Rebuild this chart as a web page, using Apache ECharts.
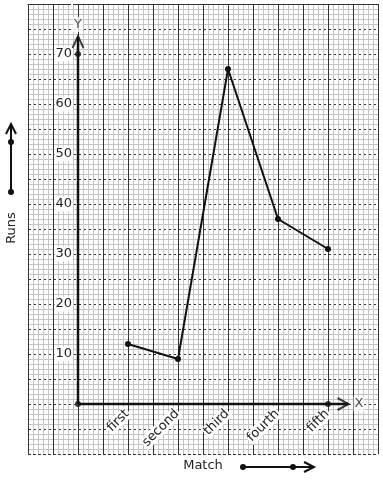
<!DOCTYPE html>
<html>
<head>
<meta charset="utf-8">
<script src="https://cdn.jsdelivr.net/npm/echarts@6/dist/echarts.min.js"></script>
<style>html,body{margin:0;padding:0;background:#fff;}#c{width:383px;height:480px;}</style>
</head>
<body>
<div id="c"></div>
<script>
// ---- data ----
var categories = ['first', 'second', 'third', 'fourth', 'fifth'];
var runs = [12, 9, 67, 37, 31];
var yTickLabels = [10, 20, 30, 40, 50, 60, 70];
var xAxisEnd = 5.4;   // where the drawn X axis arrow ends (axis units)
var yAxisEnd = 73.4;  // where the drawn Y axis arrow ends (axis units)
var axisDots = [[0, 0], [0, 70], [5, 0]];

var lineData = runs.map(function (v, i) { return [i + 1, v]; });
var font = 'DejaVu Sans';
var ink = '#111';

var chart = echarts.init(document.getElementById('c'), null, {renderer: 'canvas'});
chart.setOption({
  animation: false,
  backgroundColor: '#fff',
  grid: {left: 28, top: 4, width: 350, height: 450, containLabel: false, outerBoundsMode: 'none'},
  xAxis: [{
    type: 'value', min: -1, max: 6, interval: 0.5, position: 'bottom', offset: -50,
    axisLine: {show: false, onZero: false},
    axisTick: {show: false},
    minorTick: {show: false, splitNumber: 5},
    splitLine: {show: true, lineStyle: {color: '#333', width: 1, type: 'solid'}},
    minorSplitLine: {show: true, lineStyle: {color: '#c4c4c4', width: 1}},
    axisLabel: {
      show: true, rotate: 45, margin: 7, fontFamily: font, fontSize: 13, color: '#222',
      backgroundColor: '#fff', padding: [0, 1],
      formatter: function (v) {
        var i = Math.round(v);
        if (Math.abs(v - i) < 1e-6 && i >= 1 && i <= categories.length) return categories[i - 1];
        return '';
      }
    }
  }, {
    type: 'value', min: -1, max: 6, position: 'top',
    axisLine: {show: true, onZero: false, lineStyle: {color: '#333', width: 1}},
    axisTick: {show: false}, axisLabel: {show: false}, splitLine: {show: false}
  }],
  yAxis: {
    type: 'value', min: -10, max: 80, interval: 5, position: 'left', offset: -50,
    axisLine: {show: false, onZero: false},
    axisTick: {show: false},
    minorTick: {show: false, splitNumber: 5},
    splitLine: {show: true, lineStyle: {color: '#333', width: 1, type: [3, 2]}},
    minorSplitLine: {show: true, lineStyle: {color: '#c4c4c4', width: 1}},
    axisLabel: {
      show: true, margin: 5, fontFamily: font, fontSize: 13, color: '#222',
      backgroundColor: '#fff', padding: [1, 1],
      formatter: function (v) { return yTickLabels.indexOf(v) >= 0 ? String(v) : ''; }
    }
  },
  series: [
    {type: 'line', data: [[0, 0], [xAxisEnd, 0]], symbol: 'none', silent: true,
     lineStyle: {color: ink, width: 2.5}, z: 3},
    {type: 'line', data: [[0, 0], [0, yAxisEnd]], symbol: 'none', silent: true,
     lineStyle: {color: ink, width: 2.5}, z: 3},
    {type: 'scatter', data: [[xAxisEnd, 0]], symbol: 'path://M0,0L12,6L0,12',
     symbolSize: [11, 12], symbolOffset: [-5, 0], silent: true, z: 4,
     itemStyle: {color: 'rgba(0,0,0,0)', borderColor: ink, borderWidth: 2},
     label: {show: true, formatter: 'X', position: 'right', distance: 4, fontFamily: font,
             fontSize: 13, color: '#222', backgroundColor: '#fff', padding: [1, 1]}},
    {type: 'scatter', data: [[0, yAxisEnd]], symbol: 'path://M0,12L6,0L12,12',
     symbolSize: [11, 12], symbolOffset: [0, 5], silent: true, z: 4,
     itemStyle: {color: 'rgba(0,0,0,0)', borderColor: ink, borderWidth: 2},
     label: {show: true, formatter: 'Y', position: 'top', distance: 3, fontFamily: font,
             fontSize: 13, color: '#222', backgroundColor: '#fff', padding: [1, 1]}},
    {type: 'scatter', data: axisDots, symbol: 'circle', symbolSize: 6, silent: true, z: 5,
     itemStyle: {color: ink}},
    {type: 'line', data: lineData, symbol: 'circle', symbolSize: 6, showAllSymbol: true,
     lineStyle: {color: ink, width: 2}, itemStyle: {color: ink}, z: 5}
  ],
  graphic: [
    {type: 'text', x: 12, y: 228, rotation: Math.PI / 2, z: 10,
     style: {text: 'Runs', font: '13px "DejaVu Sans"', fill: '#222', align: 'center', verticalAlign: 'middle'}},
    {type: 'line', shape: {x1: 11, y1: 192, x2: 11, y2: 125}, style: {stroke: ink, lineWidth: 2}},
    {type: 'polyline', shape: {points: [[6, 134], [11, 124], [16, 134]]}, style: {stroke: ink, lineWidth: 2, fill: null}},
    {type: 'circle', shape: {cx: 11, cy: 192, r: 3}, style: {fill: ink}},
    {type: 'circle', shape: {cx: 11, cy: 142, r: 3}, style: {fill: ink}},
    {type: 'text', x: 203, y: 466, style: {text: 'Match', font: '13px "DejaVu Sans"', fill: '#222', align: 'center', verticalAlign: 'middle'}},
    {type: 'line', shape: {x1: 243, y1: 467, x2: 314, y2: 467}, style: {stroke: ink, lineWidth: 2}},
    {type: 'polyline', shape: {points: [[304, 462], [314, 467], [304, 472]]}, style: {stroke: ink, lineWidth: 2, fill: null}},
    {type: 'circle', shape: {cx: 243, cy: 467, r: 3}, style: {fill: ink}},
    {type: 'circle', shape: {cx: 293, cy: 467, r: 3}, style: {fill: ink}}
  ]
});
</script>
</body>
</html>
